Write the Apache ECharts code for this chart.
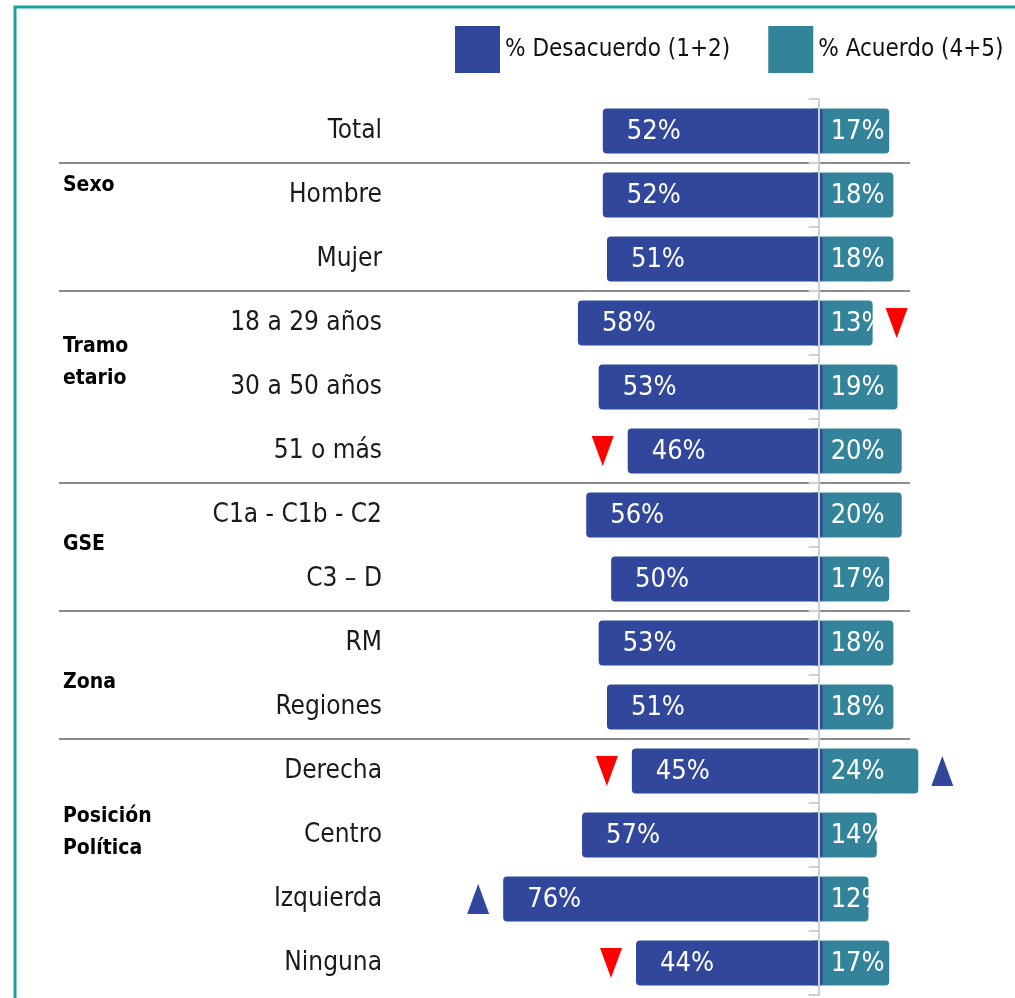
<!DOCTYPE html>
<html>
<head>
<meta charset="utf-8">
<script src="https://cdn.jsdelivr.net/npm/echarts@6/dist/echarts.min.js"></script>
<style>
  html, body { margin: 0; padding: 0; background: #fff; }
  #chart { width: 1015px; height: 998px; }
</style>
</head>
<body>
<div id="chart"></div>
<script>
const categories = ['Total', 'Hombre', 'Mujer', '18 a 29 años', '30 a 50 años', '51 o más',
  'C1a - C1b - C2', 'C3 – D', 'RM', 'Regiones', 'Derecha', 'Centro', 'Izquierda', 'Ninguna']
const desacuerdo = [52, 52, 51, 58, 53, 46, 56, 50, 53, 51, 45, 57, 76, 44]
const acuerdo = [17, 18, 18, 13, 19, 20, 20, 17, 18, 18, 24, 14, 12, 17]
// significance markers next to each bar: 'up' / 'down' / null
const sigLeft = [null, null, null, null, null, 'down', null, null, null, null, 'down', null, 'up', 'down']
const sigRight = [null, null, null, 'down', null, null, null, null, null, null, 'up', null, null, null]
const groupNames = ['Sexo', 'Tramo\netario', 'GSE', 'Zona', 'Posición\nPolítica']
const groupStarts = [1, 3, 6, 8, 10]
const seriesNames = ['% Desacuerdo (1+2)', '% Acuerdo (4+5)']

const BLUE = '#31479b'
const TEAL = '#33849b'
const RED = '#ff0000'
const FONT = '"Liberation Sans Narrow", "DejaVu Sans Condensed", sans-serif'

const chart = echarts.init(document.getElementById('chart'))

// marker points
const markers = []
sigLeft.forEach((s, i) => {
  if (!s) return
  markers.push({ value: [-desacuerdo[i], i], symbolOffset: [-25, 0], symbolRotate: s === 'down' ? 180 : 0,
    itemStyle: { color: s === 'down' ? RED : BLUE, opacity: 1 } })
})
sigRight.forEach((s, i) => {
  if (!s) return
  markers.push({ value: [acuerdo[i], i], symbolOffset: [24, 0], symbolRotate: s === 'down' ? 180 : 0,
    itemStyle: { color: s === 'down' ? RED : BLUE, opacity: 1 } })
})

const option = {
  animation: false,
  textStyle: { fontFamily: FONT },
  legend: {
    left: 455, top: 26, width: 600, padding: 0,
    itemWidth: 45, itemHeight: 47, itemGap: 38,
    icon: 'rect',
    textStyle: { fontSize: 24, color: '#111', fontFamily: FONT },
    data: seriesNames
  },
  grid: { left: 59, right: 105, top: 99, bottom: 3 },
  xAxis: {
    type: 'value', min: -183, max: 22, show: false
  },
  yAxis: [
    {
      type: 'category', data: categories, inverse: true,
      offset: -323,
      axisLine: { show: false, onZero: false },
      axisTick: { show: false },
      axisLabel: { fontSize: 26, color: '#1a1a1a', margin: 0, fontFamily: FONT }
    },
    {
      type: 'category', data: categories, inverse: true, z: 10,
      axisLine: { show: true, onZero: true, lineStyle: { color: '#cfcfcf', width: 2 } },
      axisTick: { show: true, inside: true, length: 10, lineStyle: { color: '#cfcfcf', width: 2 } },
      axisLabel: { show: false }
    }
  ],
  series: [
    {
      name: seriesNames[1], type: 'custom', itemStyle: { color: TEAL }, z: 2,
      encode: { x: 0, y: 1 },
      data: acuerdo.map((v, i) => [v, i]),
      renderItem(params, api) {
        const v = api.value(0), i = api.value(1)
        const zero = api.coord([0, i]), end = api.coord([v, i])
        const h = api.size([0, 1])[1] * 0.7
        return {
          type: 'group', children: [
            { type: 'rect', shape: { x: zero[0] - 4, y: zero[1] - h / 2, width: end[0] - zero[0] + 4, height: h, r: [0, 4, 4, 0] },
              style: { fill: TEAL } },
            { type: 'text', z2: 5, style: { text: v + '%', x: zero[0] + 12, y: zero[1] + 1, verticalAlign: 'middle',
              fill: '#fff', font: '27px ' + FONT } }
          ]
        }
      }
    },
    {
      name: seriesNames[0], type: 'custom', itemStyle: { color: BLUE }, z: 3,
      encode: { x: 0, y: 1 },
      data: desacuerdo.map((v, i) => [v, i]),
      renderItem(params, api) {
        const v = api.value(0), i = api.value(1)
        const left = api.coord([-v, i]), zero = api.coord([0, i])
        const h = api.size([0, 1])[1] * 0.7
        return {
          type: 'group', children: [
            { type: 'rect', shape: { x: left[0], y: left[1] - h / 2, width: zero[0] - left[0] + 4, height: h, r: 4 },
              style: { fill: BLUE } },
            { type: 'text', z2: 5, style: { text: v + '%', x: left[0] + 24, y: left[1] + 1, verticalAlign: 'middle',
              fill: '#fff', font: '27px ' + FONT } }
          ]
        }
      }
    },
    {
      type: 'scatter', symbol: 'triangle', symbolSize: [22, 30], clip: false, z: 4,
      data: markers
    }
  ]
}
chart.setOption(option)

// separators between groups and group titles, placed with the axis scale
const yAt = i => chart.convertToPixel({ yAxisIndex: 0 }, i)
const xL = chart.convertToPixel({ xAxisIndex: 0 }, -183)
const xR = chart.convertToPixel({ xAxisIndex: 0 }, 22)
const graphic = [
  { type: 'polyline', shape: { points: [[15, 998], [15, 7], [1015, 7]] }, style: { stroke: '#18a3a0', lineWidth: 3, fill: null } }
]
groupStarts.forEach(s => {
  const y = Math.round((yAt(s - 1) + yAt(s)) / 2)
  graphic.push({ type: 'line', shape: { x1: xL, y1: y, x2: xR, y2: y }, style: { stroke: '#8c8c8c', lineWidth: 2 } })
})
const groupY = [186, 363, 545, 683, 833]
groupNames.forEach((g, k) => {
  graphic.push({ type: 'text', style: { text: g, x: 63, y: groupY[k], verticalAlign: 'middle',
    font: 'bold 21px ' + FONT, fill: '#000', lineHeight: 32 } })
})
chart.setOption({ graphic })
window.addEventListener('resize', () => chart.resize())
</script>
</body>
</html>
